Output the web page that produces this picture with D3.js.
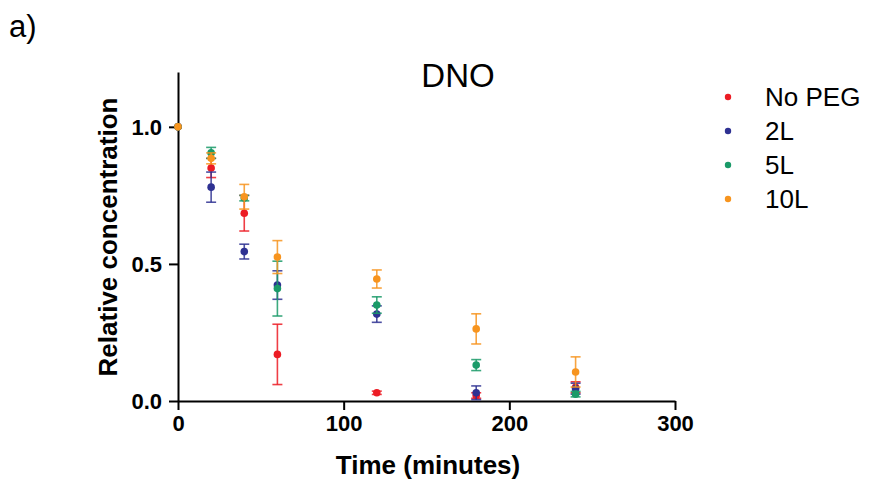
<!DOCTYPE html>
<html>
<head>
<meta charset="utf-8">
<script src="https://cdn.jsdelivr.net/npm/d3@7"></script>
<style>
  body { margin: 0; background: #fff; }
  svg { display: block; font-family: Arial, "Liberation Sans", sans-serif; }
</style>
</head>
<body>
<svg id="chart" width="869" height="484"></svg>
<script>
// Sampling times (minutes)
const times = [0, 20, 40, 60, 120, 180, 240];

// Series names and colours
const seriesNames = ["No PEG", "2L", "5L", "10L"];
const seriesColors = ["#ec1c24", "#2e3192", "#1a9a68", "#f7941e"];

// Mean relative concentration for each series
const noPegMean = [1.0, 0.85, 0.685, 0.17, 0.03, 0.02, 0.05];
const peg2Mean  = [1.0, 0.78, 0.545, 0.423, 0.317, 0.03, 0.045];
const peg5Mean  = [1.0, 0.905, 0.74, 0.41, 0.35, 0.131, 0.025];
const peg10Mean = [1.0, 0.885, 0.745, 0.525, 0.445, 0.263, 0.106];

// Standard error for each series
const noPegErr = [0, 0.035, 0.065, 0.11, 0.006, 0.01, 0.02];
const peg2Err  = [0, 0.055, 0.027, 0.052, 0.03, 0.025, 0.02];
const peg5Err  = [0, 0.02, 0.01, 0.1, 0.03, 0.02, 0.01];
const peg10Err = [0, 0.02, 0.045, 0.06, 0.033, 0.055, 0.055];

// Axis tick values
const xTicks = [0, 100, 200, 300];
const yTicks = [0.0, 0.5, 1.0];

const means = [noPegMean, peg2Mean, peg5Mean, peg10Mean];
const errs = [noPegErr, peg2Err, peg5Err, peg10Err];

const svg = d3.select("#chart");

const x = d3.scaleLinear().domain([0, 300]).range([178, 675]);
const y = d3.scaleLinear().domain([0, 1.2]).range([401, 72]);

// Panel label and title
svg.append("text").attr("x", 9).attr("y", 37)
  .attr("font-size", 31).attr("fill", "#000").text("a)");
svg.append("text").attr("x", 458).attr("y", 87)
  .attr("text-anchor", "middle").attr("font-size", 33).attr("fill", "#000").text("DNO");

// Axes
const xAxis = svg.append("g").attr("transform", `translate(0,${y(0)})`)
  .call(d3.axisBottom(x).tickValues(xTicks).tickSize(9).tickSizeOuter(0).tickPadding(5));
const yAxis = svg.append("g").attr("transform", `translate(${x(0)},0)`)
  .call(d3.axisLeft(y).tickValues(yTicks).tickSize(9).tickSizeOuter(0).tickPadding(7)
    .tickFormat(d3.format(".1f")));

[xAxis, yAxis].forEach(g => {
  g.attr("font-size", null).attr("font-family", null);
  g.select(".domain").attr("stroke", "#000").attr("stroke-width", 2);
  g.selectAll(".tick line").attr("stroke", "#000").attr("stroke-width", 2);
  g.selectAll(".tick text").style("font-size", "22px").style("font-weight", "bold")
    .attr("fill", "#000").style("font-family", "Arial, 'Liberation Sans', sans-serif");
});
yAxis.selectAll(".tick text").attr("dy", "0.35em");

// Axis titles
svg.append("text").attr("x", 428).attr("y", 474)
  .attr("text-anchor", "middle").style("font-size", "26px").style("font-weight", "bold")
  .text("Time (minutes)");
svg.append("text")
  .attr("transform", `translate(117,237) rotate(-90)`)
  .attr("text-anchor", "middle").style("font-size", "26px").style("font-weight", "bold")
  .text("Relative concentration");

// Error bars and points
const capHalf = 5;
seriesNames.forEach((name, si) => {
  const color = seriesColors[si];
  const rows = times.map((t, i) => ({ t, m: means[si][i], e: errs[si][i] }));
  const g = svg.append("g");
  const eb = g.selectAll("g.eb").data(rows.filter(r => r.e > 0)).join("g").attr("class", "eb")
    .attr("stroke", color).attr("stroke-width", 1.6).attr("stroke-opacity", 0.85);
  eb.append("line")
    .attr("x1", d => x(d.t)).attr("x2", d => x(d.t))
    .attr("y1", d => y(d.m + d.e)).attr("y2", d => y(Math.max(0, d.m - d.e)));
  eb.append("line")
    .attr("x1", d => x(d.t) - capHalf).attr("x2", d => x(d.t) + capHalf)
    .attr("y1", d => y(d.m + d.e)).attr("y2", d => y(d.m + d.e));
  eb.append("line")
    .attr("x1", d => x(d.t) - capHalf).attr("x2", d => x(d.t) + capHalf)
    .attr("y1", d => y(Math.max(0, d.m - d.e))).attr("y2", d => y(Math.max(0, d.m - d.e)));
  g.selectAll("circle").data(rows).join("circle")
    .attr("cx", d => x(d.t)).attr("cy", d => y(d.m)).attr("r", 3.8)
    .attr("fill", color);
});

// Legend
const legend = svg.append("g");
seriesNames.forEach((name, i) => {
  const ly = 97 + i * 34;
  legend.append("circle").attr("cx", 728).attr("cy", ly).attr("r", 3.2).attr("fill", seriesColors[i]);
  legend.append("text").attr("x", 765).attr("y", ly).attr("dy", "0.35em")
    .style("font-size", "26px").attr("fill", "#000").text(name);
});
</script>
</body>
</html>
